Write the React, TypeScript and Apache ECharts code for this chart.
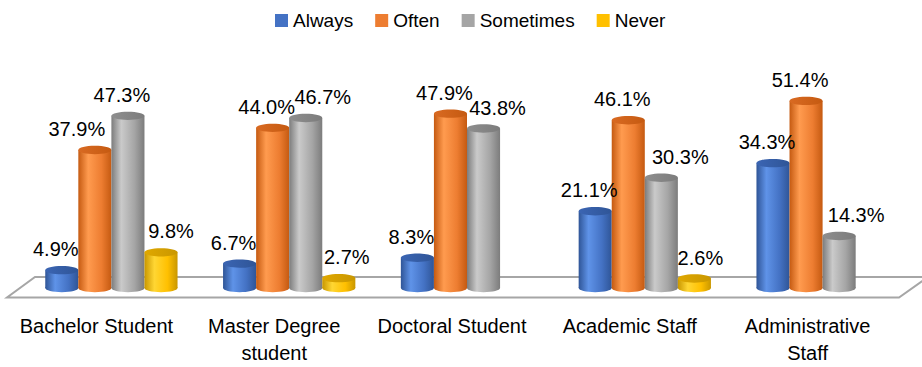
import React, { useEffect, useRef } from "react";
import * as echarts from "echarts";

const categories = [
  "Bachelor Student",
  "Master Degree\nstudent",
  "Doctoral Student",
  "Academic Staff",
  "Administrative\nStaff",
];
const seriesNames = ["Always", "Often", "Sometimes", "Never"];
const always = [4.9, 6.7, 8.3, 21.1, 34.3];
const often = [37.9, 44.0, 47.9, 46.1, 51.4];
const sometimes = [47.3, 46.7, 43.8, 30.3, 14.3];
const never: (number | null)[] = [9.8, 2.7, null, 2.6, null];

// horizontal nudges of the value labels (px), as placed in the reference
const labelDx = [
  [-6, -6, -6, -6, -6],
  [-18, -6, -6, -6, -6],
  [-6, 17, 14, 19, 17],
  [10, 8, 0, 6, 0],
];

const palette = [
  { base: "#4472C4", light: "#5f93e8", dark: "#2f5597", top: "#3b65b3" },
  { base: "#ED7D31", light: "#ff9b4f", dark: "#c55a11", top: "#d96a22" },
  { base: "#A5A5A5", light: "#cacaca", dark: "#7c7c7c", top: "#8e8e8e" },
  { base: "#FFC000", light: "#ffd633", dark: "#c99700", top: "#e0a800" },
];

const FONT = '"Liberation Sans", Arial, sans-serif';
const FS = 20;

export default function App() {
  const ref = useRef<HTMLDivElement>(null);
  useEffect(() => {
    document.body.style.margin = "0";
    const chart = echarts.init(ref.current!, null, { renderer: "svg" });
    const all = [always, often, sometimes, never];

    const makeSeries = (si: number) => ({
      type: "custom",
      name: seriesNames[si],
      itemStyle: { color: palette[si].base },
      clip: false,
      z: 5,
      encode: { x: 0, y: 1 },
      data: all[si].map((v, i) => [i, v == null ? "-" : v]),
      renderItem: (params: any, api: any) => {
        const ci = api.value(0);
        const v = api.value(1);
        if (v == null || isNaN(v)) return null;
        const band = api.size([1, 0])[0];
        const w = band * 0.186;
        const c = api.coord([ci, v]);
        const b = api.coord([ci, 0]);
        const x = c[0] + (si - 1.5) * w;
        const yTop = c[1];
        const yBase = b[1];
        const left = x - w / 2;
        const ry = 4.2;
        const p = palette[si];
        const bodyGrad = new echarts.graphic.LinearGradient(0, 0, 1, 0, [
          { offset: 0, color: p.dark },
          { offset: 0.3, color: p.light },
          { offset: 0.7, color: p.base },
          { offset: 1, color: p.dark },
        ]);
        const topGrad = new echarts.graphic.LinearGradient(0, 0, 1, 0, [
          { offset: 0, color: p.top },
          { offset: 1, color: p.dark },
        ]);
        return {
          type: "group",
          children: [
            {
              type: "ellipse",
              shape: { cx: x, cy: yBase, rx: w / 2, ry },
              style: { fill: bodyGrad },
            },
            {
              type: "rect",
              shape: { x: left, y: yTop, width: w, height: yBase - yTop },
              style: { fill: bodyGrad },
            },
            {
              type: "ellipse",
              shape: { cx: x, cy: yTop, rx: w / 2, ry },
              style: { fill: topGrad },
            },
            {
              type: "text",
              z2: 10,
              style: {
                text: Number(v).toFixed(1) + "%",
                x: x + labelDx[si][ci],
                y: yTop - 21,
                align: "center",
                verticalAlign: "middle",
                fontSize: FS,
                fontFamily: FONT,
                fill: "#000",
              },
            },
          ],
        };
      },
    });

    chart.setOption({
      animation: false,
      backgroundColor: "#fff",
      legend: {
        data: seriesNames,
        left: 270,
        top: 6,
        icon: "rect",
        itemWidth: 13,
        itemHeight: 13,
        itemGap: 22,
        textStyle: { fontSize: 19, fontFamily: FONT, color: "#000" },
      },
      grid: {
        left: 22.5,
        right: 10.5,
        top: 69.6,
        bottom: 79,
        containLabel: false,
        outerBoundsMode: "none",
      },
      graphic: [
        {
          type: "polygon",
          z: 0,
          silent: true,
          shape: {
            points: [
              [35, 277],
              [928, 277],
              [899, 297.5],
              [7, 297.5],
            ],
          },
          style: { fill: "#fff", stroke: "#a6a6a6", lineWidth: 2 },
        },
      ],
      xAxis: {
        type: "category",
        data: categories,
        axisLine: { show: false },
        axisTick: { show: false },
        splitLine: { show: false },
        axisLabel: {
          interval: 0,
          fontSize: FS,
          fontFamily: FONT,
          color: "#000",
          lineHeight: 27,
          margin: 24,
          padding: [0, 30, 0, 0],
        },
      },
      yAxis: {
        type: "value",
        min: 0,
        max: 60,
        show: false,
        splitLine: { show: false },
      },
      series: [0, 1, 2, 3].map(makeSeries),
    });
    return () => chart.dispose();
  }, []);
  return (
    <div
      ref={ref}
      style={{ position: "fixed", left: 0, top: 0, width: 922, height: 367 }}
    />
  );
}
